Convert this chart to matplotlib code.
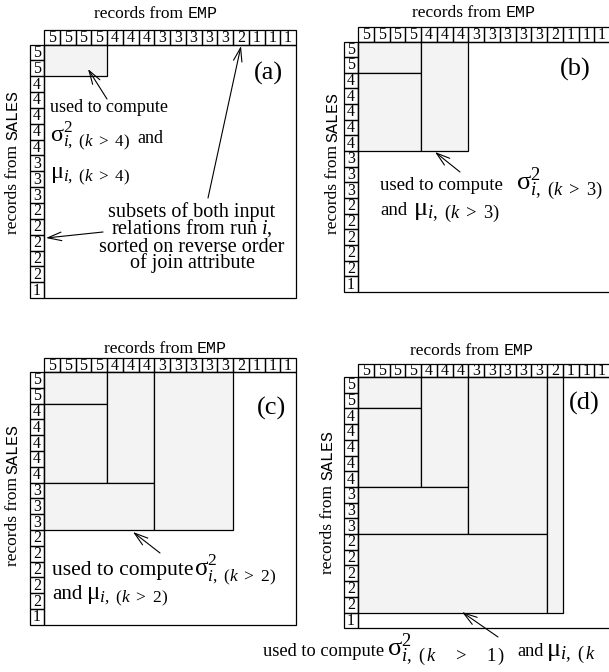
"""Nested join-attribute blocks used for per-run variance estimates."""

import matplotlib

matplotlib.use("Agg")
import matplotlib.pyplot as plt
from matplotlib import font_manager
from matplotlib.patches import Rectangle

plt.rcParams["font.family"] = ["Liberation Serif", "DejaVu Serif"]
plt.rcParams["mathtext.fontset"] = "custom"
plt.rcParams["mathtext.rm"] = "Liberation Serif"
plt.rcParams["mathtext.it"] = "Liberation Serif:italic"
plt.rcParams["mathtext.default"] = "rm"

MONO = ["Liberation Mono", "Courier New", "Nimbus Mono PS", "FreeMono", "DejaVu Sans Mono"]
installed = {f.name for f in font_manager.fontManager.ttflist}
MONO = [name for name in MONO if name in installed] or ["DejaVu Sans Mono"]

# join attribute values of the records, in reverse sort order
emp_keys = [5, 5, 5, 5, 4, 4, 4, 3, 3, 3, 3, 3, 2, 1, 1, 1]
sales_keys = [5, 5, 4, 4, 4, 4, 4, 3, 3, 3, 2, 2, 2, 2, 2, 1]

panel_names = ["a", "b", "c", "d"]
panel_levels = [[5], [5, 4], [5, 4, 3], [5, 4, 3, 2]]

# panel geometry in pixels: data-box corner, cell size, header height
LAYOUT = {
    "a": dict(x0=44, y0=44.5, cw=15.75, ch=15.85, hh=15.0),
    "b": dict(x0=358, y0=41.5, cw=15.75, ch=15.65, hh=14.5),
    "c": dict(x0=44, y0=372, cw=15.75, ch=15.8, hh=14.0),
    "d": dict(x0=358, y0=377, cw=15.75, ch=15.7, hh=13.5),
}
ROW_W = 14.5
LW = 0.9
FILL = "#f3f3f3"
TITLE_FS = 12.5

SIGMA = r"$\sigma^{2}_{\mathit{i},\ (\mathit{k}\ >\ %d)}$"
MU = r"$\mu_{\mathit{i},\ (\mathit{k}\ >\ %d)}$"
SIGMA_WIDE = r"$\sigma^{2}_{\mathit{i},\,\,(\,\mathit{k}\quad\ >\quad\ %d\,)}$"
MU_WIDE = r"$\mu_{\mathit{i},\,\,(\,\mathit{k}\quad\ >\quad\ %d\,)}$"


def draw_panel(ax, name, levels):
    g = LAYOUT[name]
    x0, y0, cw, ch, hh = g["x0"], g["y0"], g["cw"], g["ch"], g["hh"]
    ncol, nrow = len(emp_keys), len(sales_keys)

    ax.add_patch(Rectangle((x0, y0), ncol * cw, nrow * ch, fill=False, edgecolor="black", lw=LW))

    prev_c, prev_r = 0, 0
    for level in levels:
        n_c = sum(1 for k in emp_keys if k >= level)
        n_r = sum(1 for k in sales_keys if k >= level)
        if prev_c > 0:
            ax.add_patch(Rectangle((x0, y0 + prev_r * ch), prev_c * cw, (n_r - prev_r) * ch,
                                   facecolor=FILL, edgecolor="black", lw=LW))
        ax.add_patch(Rectangle((x0 + prev_c * cw, y0), (n_c - prev_c) * cw, n_r * ch,
                               facecolor=FILL, edgecolor="black", lw=LW))
        prev_c, prev_r = n_c, n_r

    for i, key in enumerate(emp_keys):
        ax.add_patch(Rectangle((x0 + i * cw, y0 - hh), cw, hh, fill=False, edgecolor="black", lw=LW))
        ax.text(x0 + (i + 0.5) * cw, y0 - hh / 2 + 0.5, str(key), ha="center", va="center", fontsize=11.5)
    for j, key in enumerate(sales_keys):
        ax.add_patch(Rectangle((x0 - ROW_W, y0 + j * ch), ROW_W, ch, fill=False, edgecolor="black", lw=LW))
        ax.text(x0 - ROW_W / 2, y0 + (j + 0.5) * ch + 0.5, str(key), ha="center", va="center", fontsize=11.5)


def mixed_title(ax, renderer, x, y, word, vertical=False, gap=4):
    """'records from' in serif followed by a relation name in typewriter."""
    t1 = ax.text(0, 0, "records from", fontsize=TITLE_FS)
    t2 = ax.text(0, 0, word, fontsize=TITLE_FS - 0.5, family=MONO)
    w1 = t1.get_window_extent(renderer).width
    w2 = t2.get_window_extent(renderer).width
    total = w1 + gap + w2
    for t in (t1, t2):
        t.set_va("baseline")
        t.set_ha("left")
        t.set_rotation_mode("anchor")
    if vertical:
        start = y + total / 2
        t1.set_rotation(90)
        t2.set_rotation(90)
        t1.set_position((x, start))
        t2.set_position((x, start - w1 - gap))
    else:
        start = x - total / 2
        t1.set_position((start, y))
        t2.set_position((start + w1 + gap, y))


def arrow(ax, head, tail):
    ax.annotate("", xy=head, xytext=tail,
                arrowprops=dict(arrowstyle="->,head_length=0.7,head_width=0.22", lw=0.8,
                                color="black", shrinkA=0, shrinkB=0, mutation_scale=14))


fig = plt.figure(figsize=(6.09, 6.72), dpi=100)
ax = fig.add_axes([0, 0, 1, 1])
ax.set_xlim(0, 609)
ax.set_ylim(672, 0)
ax.axis("off")
renderer = fig.canvas.get_renderer()

for name, levels in zip(panel_names, panel_levels):
    draw_panel(ax, name, levels)

# axis titles of each panel
for x, y in [(156, 18), (474, 17), (165, 353), (472, 355)]:
    mixed_title(ax, renderer, x, y, "EMP")
for x, y in [(17, 162), (337, 163), (17, 495), (332, 502)]:
    mixed_title(ax, renderer, x, y, "SALES", vertical=True)

label_pos = [(268, 80), (575, 76), (272, 415), (584, 410)]
for (x, y), name in zip(label_pos, panel_names):
    ax.text(x, y, f"({name})", ha="center", va="baseline", fontsize=19)

# panel (a) notes
ax.text(50, 112, "used to compute", va="baseline", fontsize=13)
ax.text(50, 142, SIGMA % 4, va="baseline", fontsize=17.5)
ax.text(137, 143, "and", va="baseline", fontsize=13)
ax.text(50, 179, MU % 4, va="baseline", fontsize=17.5)
subset_lines = ["subsets of both input", r"relations from run $\mathit{i}$,",
                "sorted on reverse order", "of join attribute"]
for line, y in zip(subset_lines, [217, 234, 252, 268]):
    ax.text(192, y, line, ha="center", va="baseline", fontsize=14.5)
arrow(ax, (88, 69), (107, 99))
arrow(ax, (241, 46), (208, 198))
arrow(ax, (46, 238), (103, 232))

# panel (b)
ax.text(380, 190, "used to compute", va="baseline", fontsize=13.5)
ax.text(516, 190, SIGMA % 3, va="baseline", fontsize=19)
ax.text(380, 215, "and", va="baseline", fontsize=13.5)
ax.text(413, 215, MU % 3, va="baseline", fontsize=19)
arrow(ax, (435, 152), (460, 172))

# panel (c)
ax.text(52, 575, "used to compute", va="baseline", fontsize=15.5)
ax.text(194, 575, SIGMA % 2, va="baseline", fontsize=18)
ax.text(52, 599, "and", va="baseline", fontsize=15)
ax.text(86, 599, MU % 2, va="baseline", fontsize=18)
arrow(ax, (133, 532), (160, 553))

# panel (d)
ax.text(263, 656, "used to compute", va="baseline", fontsize=13.2)
ax.text(387, 656, SIGMA_WIDE % 1, va="baseline", fontsize=19)
ax.text(517, 656, "and", va="baseline", fontsize=13.2)
ax.text(546, 656, MU_WIDE % 1, va="baseline", fontsize=19)
arrow(ax, (462, 612), (498, 637))

fig.savefig("out.png", dpi=100, facecolor="white")
